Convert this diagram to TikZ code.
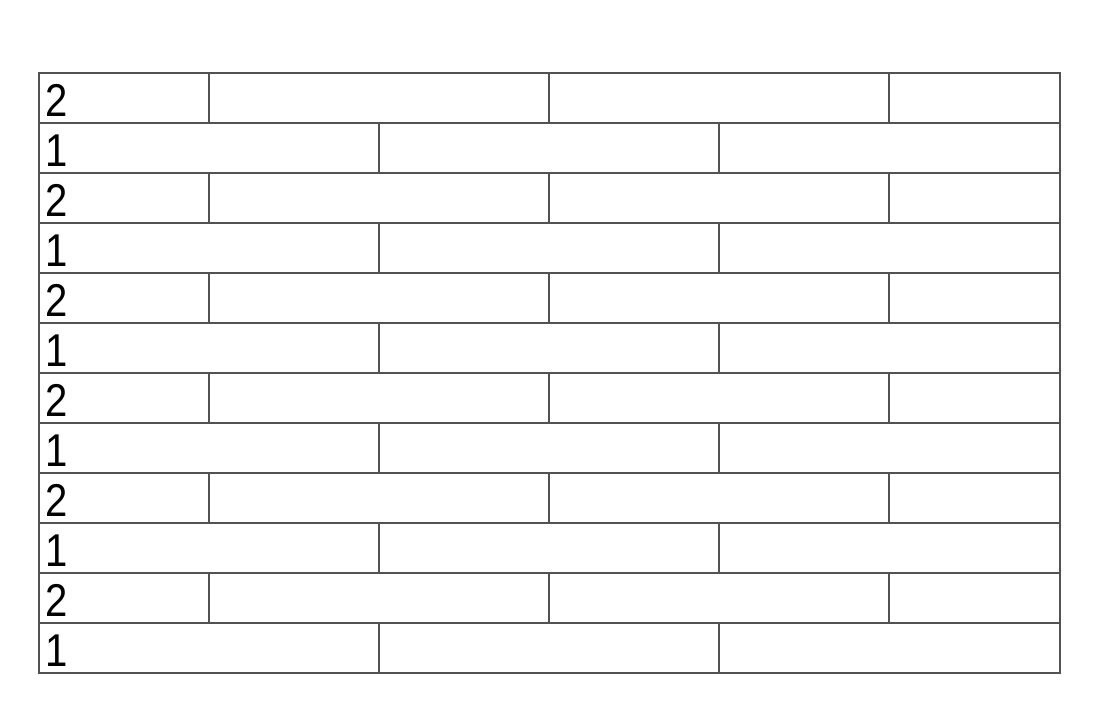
\documentclass[tikz,border=0pt]{standalone}
\usepackage{fontspec}
\setmainfont{Liberation Sans}
\begin{document}
\begin{tikzpicture}[x=0.5pt,y=-0.5pt,
  brick/.style={draw=black!68,line width=0.65pt},
  lbl/.style={anchor=base west,inner sep=0pt,xscale=0.87,font=\fontsize{23}{23}\selectfont}]
\useasboundingbox (0,0) rectangle (1100,720);
\draw[brick] (39,73) rectangle (1060,673);
\foreach \i in {1,...,11} {
  \draw[brick] (39,{73+50*\i}) -- (1060,{73+50*\i});
}
\foreach \i in {0,2,...,10} {
  \foreach \x in {209,549,889}
    \draw[brick] (\x,{73+50*\i}) -- (\x,{123+50*\i});
  \node[lbl] (l\i) at (45,{116+50*\i}) {2};
}
\foreach \i in {1,3,...,11} {
  \foreach \x in {379,719}
    \draw[brick] (\x,{73+50*\i}) -- (\x,{123+50*\i});
  \node[lbl] (l\i) at (45,{116+50*\i}) {1};
}
\end{tikzpicture}
\end{document}
